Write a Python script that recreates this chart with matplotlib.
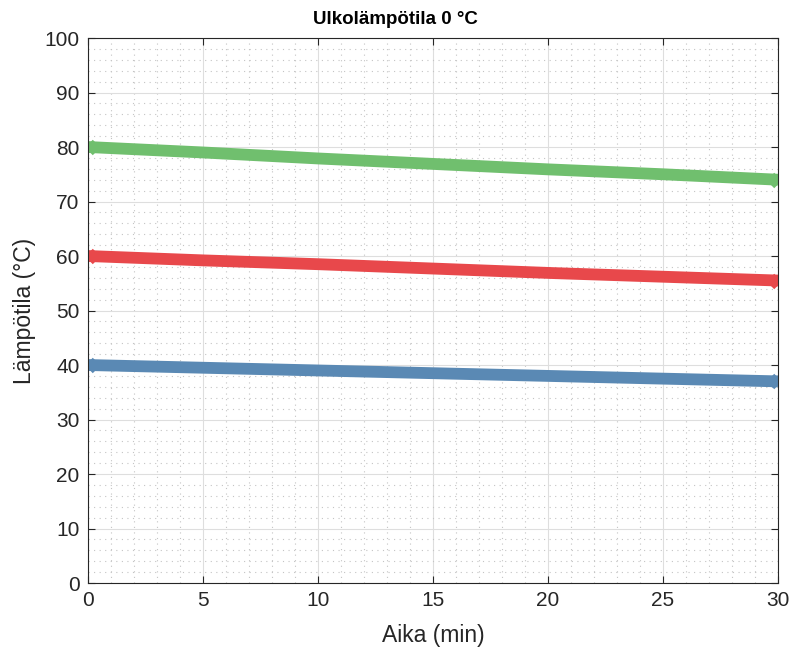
import matplotlib.pyplot as plt
from matplotlib.ticker import MultipleLocator

plt.rcParams['font.family'] = ['Liberation Sans', 'DejaVu Sans']

# time (min) and water temperatures
aika = [0, 5, 10, 15, 20, 25, 30]
lampo_80 = [80.0, 79.0, 77.9, 76.9, 75.9, 75.0, 74.0]
lampo_60 = [60.0, 59.2, 58.5, 57.7, 56.9, 56.2, 55.5]
lampo_40 = [40.0, 39.5, 39.0, 38.5, 38.0, 37.5, 37.0]

series = [
    (lampo_80, '#70bf6e'),
    (lampo_60, '#e8484b'),
    (lampo_40, '#5a89b4'),
]

fig = plt.figure(figsize=(7.9, 6.52), dpi=100)
ax = fig.add_axes([0.1114, 0.1058, 0.8734, 0.8359])

for values, color in series:
    ax.plot(aika, values, color=color, linewidth=8.5, solid_capstyle='butt',
            marker='x', markersize=8, markeredgewidth=3.5, markevery=[0, len(aika) - 1])

ax.set_xlim(0, 30)
ax.set_ylim(0, 100)
ax.xaxis.set_major_locator(MultipleLocator(5))
ax.xaxis.set_minor_locator(MultipleLocator(1))
ax.yaxis.set_major_locator(MultipleLocator(10))
ax.yaxis.set_minor_locator(MultipleLocator(2))

ax.grid(which='major', color='#dedede', linewidth=0.8, linestyle='-')
ax.grid(which='minor', color='#c4c4c4', linewidth=0.8, linestyle=(0, (1, 4)))
ax.set_axisbelow(True)

for side in ax.spines.values():
    side.set_color('#262626')
    side.set_linewidth(0.8)
ax.tick_params(which='major', direction='in', length=5, width=0.8, colors='#262626',
               labelsize=15, top=True, right=True, pad=6)
ax.tick_params(which='minor', length=0)

ax.set_xlabel('Aika (min)', fontsize=16.5, color='#262626', labelpad=10)
ax.set_ylabel('Lämpötila (°C)', fontsize=16.5, color='#262626', labelpad=6)
# title is centred on the figure, not on the axes
ax.set_title('Ulkolämpötila 0 °C', fontsize=13.5, fontweight='bold',
             x=(0.5 - 0.1114) / 0.8734, pad=10)

fig.savefig('out.png', dpi=100)
